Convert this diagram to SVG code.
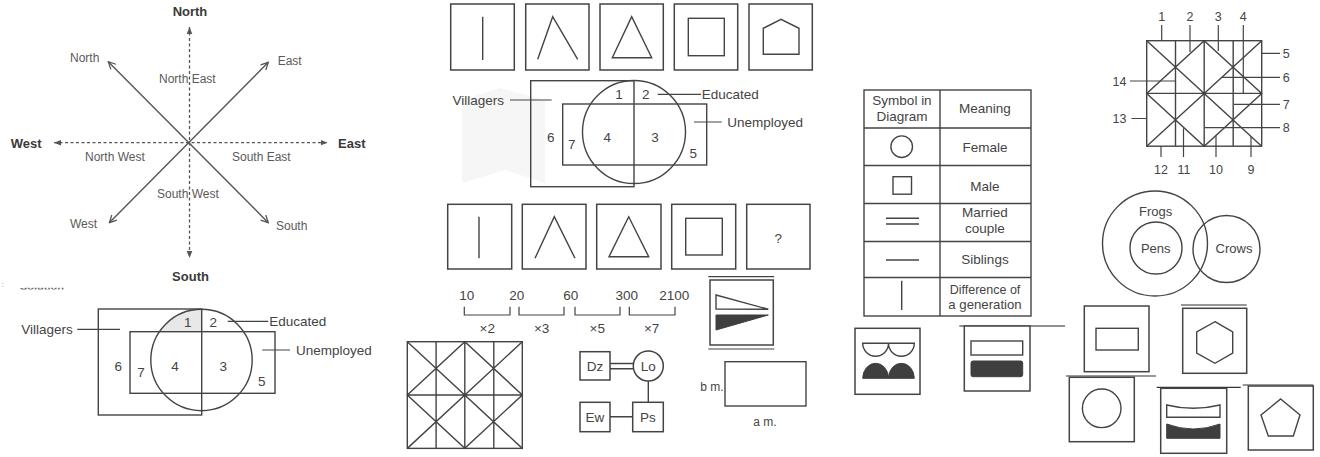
<svg xmlns="http://www.w3.org/2000/svg" width="1320" height="457" viewBox="0 0 1320 457">
<defs>
<style>
.t{font-family:"Liberation Sans",Arial,sans-serif;fill:#444}
.b{font-weight:bold;font-size:13px;fill:#3a3a3a}
.g{font-size:12px;fill:#5a5a5a}
.m{font-size:13.5px}
.s{font-size:12.5px}
.ln{fill:none;stroke:#444;stroke-width:1.4}
.thin{fill:none;stroke:#444;stroke-width:1.2}
.box{fill:#fff;stroke:#444;stroke-width:1.5}
.dk{fill:#3f3f3f;stroke:#3f3f3f;stroke-width:1}
.wh{fill:#fff;stroke:#444;stroke-width:1.4}
.dash{fill:none;stroke:#555;stroke-width:1.3;stroke-dasharray:3 2.5}
.arr{fill:none;stroke:#555;stroke-width:1.4}
.mid{text-anchor:middle}
.end{text-anchor:end}
</style>
<marker id="open" viewBox="0 0 10 10" refX="9" refY="5" markerWidth="9" markerHeight="9" markerUnits="userSpaceOnUse" orient="auto-start-reverse">
<path d="M1,1 L9,5 L1,9" fill="none" stroke="#555" stroke-width="1.4"/>
</marker>
<marker id="tri" viewBox="0 0 10 10" refX="10" refY="5" markerWidth="7" markerHeight="7" markerUnits="userSpaceOnUse" orient="auto-start-reverse">
<path d="M0,1 L10,5 L0,9 z" fill="#555"/>
</marker>
<g id="gridpat">
<rect x="0" y="0" width="115" height="105.5" class="ln"/>
<path class="ln" d="M28.8,0 V105.5 M57.5,0 V105.5 M86.5,0 V105.5 M0,52.7 H115 M0,0 L115,105.5 M0,105.5 L115,0 M0,52.7 L57.5,0 L115,52.7 L57.5,105.5 Z"/>
</g>
<clipPath id="solclip"><rect x="0" y="287.8" width="90" height="1.8"/></clipPath>
</defs>
<rect width="1320" height="457" fill="#fff"/>

<!-- faint watermark emblem -->
<g id="watermark">
<path d="M462,100 L500,88 L545,100 L545,183 L505,170 L462,183 Z" fill="#f6f6f6"/>
</g>

<!-- connectors -->
<g id="connectors">
<line class="dash" x1="189.5" y1="27" x2="189.5" y2="258" marker-start="url(#tri)" marker-end="url(#tri)"/>
<line class="dash" x1="54" y1="142.7" x2="327.5" y2="142.7" marker-start="url(#tri)" marker-end="url(#tri)"/>
<line class="arr" x1="108.3" y1="61.7" x2="268.3" y2="222.7" marker-start="url(#open)" marker-end="url(#open)"/>
<line class="arr" x1="109.3" y1="222.7" x2="268.3" y2="62.3" marker-start="url(#open)" marker-end="url(#open)"/>
<path class="thin" d="M510,100 H551.7 M657.7,94.3 H701 M694,122 H721.7"/>
<path class="thin" d="M77.3,329.3 H120 M227.7,321.3 H268.3 M262.3,350 H290"/>
<path class="ln" d="M610,363.5 H633.3 M610,368.8 H633.5 M648.3,381 V402.3 M610,416.7 H632.7"/>
<path class="thin" d="M1161.7,25 V40.7 M1190,25 V52 M1218.3,25 V51 M1243.3,25 V93.3 M1261.7,53.3 H1280 M1222,77.3 H1280 M1234,104.3 H1280 M1205,127.7 H1280 M1251,136.5 V157 M1216,135.5 V157 M1183.5,128.3 V157 M1161,146 V157 M1131.5,118.5 H1147 M1130,81 H1175.7"/>
</g>

<g id="compass">
<text class="t b mid" x="190" y="15.5">North</text>
<text class="t b mid" x="190.5" y="280.5">South</text>
<text class="t b" x="10.7" y="147.8">West</text>
<text class="t b" x="338" y="147.8">East</text>
<text class="t g" x="70" y="62">North</text>
<text class="t g" x="277.7" y="65.3">East</text>
<text class="t g" x="159" y="82.6">North East</text>
<text class="t g" x="85" y="161">North West</text>
<text class="t g" x="232" y="161">South East</text>
<text class="t g" x="157" y="198.3">South West</text>
<text class="t g" x="70" y="227.6">West</text>
<text class="t g" x="276" y="230.3">South</text>
</g>

<g id="solution-cut">
<text x="1.5" y="287" font-family="Liberation Sans,Arial,sans-serif" font-size="8" fill="#999">:</text>
<text x="20" y="289.5" clip-path="url(#solclip)" font-family="Liberation Sans,Arial,sans-serif" font-size="11" font-weight="bold" fill="#666">Solution</text>
</g>

<g id="venn-bottom">
<path d="M159.4,331.7 A50.7,50.7 0 0 1 201.5,309.3 L201.5,331.7 Z" fill="#e8e8e8"/>
<rect x="98.3" y="309" width="103.4" height="106" class="ln"/>
<rect x="130" y="331.7" width="145" height="61.6" class="ln"/>
<circle cx="201.5" cy="360" r="50.7" class="ln"/>
<text class="t m end" x="72.7" y="333.8">Villagers</text>
<text class="t m mid" x="187.7" y="326.5">1</text>
<text class="t m mid" x="213.3" y="326.5">2</text>
<text class="t m" x="269.3" y="326.3">Educated</text>
<text class="t m" x="296" y="354.8">Unemployed</text>
<text class="t m mid" x="118.3" y="370.5">6</text>
<text class="t m mid" x="141" y="376.5">7</text>
<text class="t m mid" x="175" y="370.5">4</text>
<text class="t m mid" x="223.3" y="370.5">3</text>
<text class="t m mid" x="261.7" y="385.8">5</text>
</g>

<g id="row1">
<rect x="450.7" y="4" width="63.6" height="66" class="box"/>
<rect x="525.7" y="4" width="63.3" height="66" class="box"/>
<rect x="600" y="4" width="63.3" height="66" class="box"/>
<rect x="674.3" y="4" width="63.4" height="66" class="box"/>
<rect x="749" y="4" width="63.3" height="66" class="box"/>
<path class="ln" d="M482.7,16.7 V60 M537.7,59.3 L552.7,16.7 L577.7,59.3 M612.3,57.7 L631.7,16.7 L651.7,57.7 Z"/>
<rect x="688.3" y="18.3" width="36" height="37.4" class="ln"/>
<path class="ln" d="M763.3,54.3 V28.3 L781,19.3 L799,28.3 V54.3 Z"/>
</g>

<g id="venn-top">
<rect x="530.7" y="80.7" width="103.3" height="106" class="ln"/>
<rect x="562.7" y="104" width="144" height="61" class="ln"/>
<circle cx="634" cy="132" r="51.5" class="ln"/>
<text class="t m end" x="504" y="104.6">Villagers</text>
<text class="t m mid" x="619" y="99">1</text>
<text class="t m mid" x="645.7" y="99">2</text>
<text class="t m" x="701.7" y="99">Educated</text>
<text class="t m" x="727.3" y="126.5">Unemployed</text>
<text class="t m mid" x="550.7" y="141.5">6</text>
<text class="t m mid" x="571.7" y="149">7</text>
<text class="t m mid" x="607.3" y="141.5">4</text>
<text class="t m mid" x="655" y="141.5">3</text>
<text class="t m mid" x="693.3" y="158">5</text>
</g>

<g id="row2">
<rect x="447.7" y="204.3" width="64" height="64.7" class="box"/>
<rect x="522.3" y="204.3" width="63.7" height="64.7" class="box"/>
<rect x="596.7" y="204.3" width="64.3" height="64.7" class="box"/>
<rect x="671.7" y="204.3" width="64" height="64.7" class="box"/>
<rect x="746.7" y="204.3" width="63.3" height="64.7" class="box"/>
<path class="ln" d="M479,216.7 V258.3 M535,258.3 L554.3,216.7 L575,258.3 M609,256.7 L628.7,216.7 L648.7,256.7 Z"/>
<rect x="685.7" y="218.3" width="36.6" height="36.7" class="ln"/>
<text class="t m mid" x="778.3" y="243">?</text>
</g>

<g id="sequence">
<path class="thin" d="M464.3,306.7 V315 H510 V306.7 M519,306.7 V315 H564 V306.7 M575,306.7 V315 H620 V306.7 M629.3,306.7 V315 H675 V306.7"/>
<text class="t m mid" x="466.7" y="300">10</text>
<text class="t m mid" x="516.7" y="300">20</text>
<text class="t m mid" x="570.7" y="300">60</text>
<text class="t m mid" x="626.7" y="300">300</text>
<text class="t m mid" x="674.3" y="300">2100</text>
<text class="t m mid" x="487.3" y="333">×2</text>
<text class="t m mid" x="541.7" y="333">×3</text>
<text class="t m mid" x="597.3" y="333">×5</text>
<text class="t m mid" x="651.7" y="333">×7</text>
</g>

<g id="grid-bottom"><use href="#gridpat" transform="translate(407.3,341.7) scale(1,1.011)"/></g>
<g id="grid-top"><use href="#gridpat" transform="translate(1146.7,40.7)"/></g>
<g id="grid-labels">
<text class="t s mid" x="1161.7" y="21.3">1</text>
<text class="t s mid" x="1190" y="21.3">2</text>
<text class="t s mid" x="1218.3" y="21.3">3</text>
<text class="t s mid" x="1243.3" y="21.3">4</text>
<text class="t s" x="1282.7" y="57.8">5</text>
<text class="t s" x="1282.7" y="82.3">6</text>
<text class="t s" x="1282.7" y="108.8">7</text>
<text class="t s" x="1282.7" y="132">8</text>
<text class="t s mid" x="1251" y="174">9</text>
<text class="t s mid" x="1216" y="174">10</text>
<text class="t s mid" x="1184" y="174">11</text>
<text class="t s mid" x="1161" y="174">12</text>
<text class="t s end" x="1126.5" y="123.3">13</text>
<text class="t s end" x="1126.5" y="85.5">14</text>
</g>

<g id="node-dz"><rect x="580" y="351.7" width="30" height="28.3" class="box"/><text class="t m mid" x="595" y="370.8">Dz</text></g>
<g id="node-lo"><circle cx="648.3" cy="366" r="15" class="box"/><text class="t m mid" x="648.3" y="370.8">Lo</text></g>
<g id="node-ew"><rect x="580" y="402.3" width="30" height="29.4" class="box"/><text class="t m mid" x="595" y="421.7">Ew</text></g>
<g id="node-ps"><rect x="632.7" y="402.3" width="30.6" height="29.4" class="box"/><text class="t m mid" x="648" y="421.7">Ps</text></g>

<g id="tri-box">
<path class="thin" d="M708.3,276.7 H774.3 M708.3,349 H774.3"/>
<rect x="710" y="280" width="63.3" height="65" class="box"/>
<path class="wh" d="M716,295 L716,309 L768.3,309.3 Z"/>
<path class="dk" d="M716,315 L768.3,315 L716,330 Z"/>
</g>

<g id="rect-ab">
<rect x="725" y="361.7" width="81" height="44.3" class="ln"/>
<text class="t end" font-size="12" x="723.5" y="391">b m.</text>
<text class="t mid" font-size="12" x="765" y="426">a m.</text>
</g>

<g id="legend-table">
<rect x="864" y="90" width="167" height="226" class="ln"/>
<path class="ln" d="M940,90 V316 M864,128 H1031 M864,165.5 H1031 M864,203.5 H1031 M864,241.5 H1031 M864,277.5 H1031"/>
<text class="t m mid" x="902" y="104.5">Symbol in</text>
<text class="t m mid" x="902" y="120.5">Diagram</text>
<text class="t m mid" x="985" y="113.3">Meaning</text>
<circle cx="901.7" cy="146.7" r="10.8" class="ln"/>
<text class="t m mid" x="985" y="151.5">Female</text>
<rect x="893" y="176.7" width="18.5" height="17.5" class="ln"/>
<text class="t m mid" x="985" y="190.5">Male</text>
<path class="ln" d="M886,218.3 H919 M886,224 H919"/>
<text class="t m mid" x="985" y="216.7">Married</text>
<text class="t m mid" x="985" y="232.7">couple</text>
<path class="ln" d="M886,260 H919"/>
<text class="t m mid" x="985" y="263.7">Siblings</text>
<path class="ln" d="M901.7,280.7 V310"/>
<text class="t mid" font-size="12.5" x="985" y="294.2">Difference of</text>
<text class="t mid" font-size="13.2" x="985" y="308.5">a generation</text>
</g>

<g id="box-semi">
<rect x="855" y="328.3" width="65" height="66" class="box"/>
<path class="wh" d="M862.7,343.3 A12.9,12.9 0 0 0 888.5,343.3 A12.9,12.9 0 0 0 914.3,343.3 Z"/>
<path class="dk" d="M862.7,378.3 A12.9,15 0 0 1 888.5,378.3 A12.9,15 0 0 1 914.3,378.3 Z"/>
</g>
<g id="box-bars">
<path d="M959.3,326 H1065" stroke="#222" stroke-width="1.2"/>
<rect x="964.3" y="326" width="65.7" height="65" class="box"/>
<rect x="971" y="341" width="51.7" height="14" class="wh"/>
<rect x="971" y="361" width="51.7" height="15.7" rx="2" class="dk"/>
</g>
<g id="box-rect">
<rect x="1084.3" y="306" width="64.7" height="65.7" class="box"/>
<rect x="1096" y="328.3" width="42.3" height="21.7" class="ln"/>
</g>
<g id="box-hex">
<path d="M1181,305 H1246.7" stroke="#333" stroke-width="1.2"/>
<rect x="1182.7" y="308.3" width="64" height="65" class="box"/>
<path class="ln" d="M1215,321.7 L1232.7,332 L1232.7,353 L1215,363.3 L1196.7,353 L1196.7,332 Z"/>
</g>
<g id="box-circle">
<path d="M1066,376 H1156" stroke="#333" stroke-width="1.2"/>
<rect x="1069.3" y="377.3" width="65" height="64.4" class="box"/>
<circle cx="1101.7" cy="408.3" r="19.3" class="ln"/>
</g>
<g id="box-curved">
<path d="M1156.7,387.3 H1240.7" stroke="#333" stroke-width="1.2"/>
<rect x="1160.7" y="388.3" width="66" height="65" class="box"/>
<path class="wh" d="M1166.7,405 Q1193.3,411.6 1220,405 L1220,417.3 L1166.7,417.3 Z"/>
<path class="dk" d="M1166.7,424 Q1193.3,434 1220,424 L1220,438.3 L1166.7,438.3 Z"/>
</g>
<g id="box-pent">
<path d="M1242.7,385 H1313.3" stroke="#333" stroke-width="1.2"/>
<rect x="1248.3" y="386" width="65" height="64" class="box"/>
<path class="ln" d="M1280.7,399 L1300,415 L1293.3,436 L1268.3,436 L1261,415 Z"/>
</g>

<g id="venn-frogs">
<circle cx="1155" cy="243.5" r="52.5" class="ln"/>
<circle cx="1156" cy="248" r="26" class="ln"/>
<circle cx="1226.5" cy="249" r="33.5" class="ln"/>
<text class="t mid" font-size="13" x="1155.7" y="215.5">Frogs</text>
<text class="t mid" font-size="13" x="1155.7" y="253">Pens</text>
<text class="t mid" font-size="13" x="1234" y="253">Crows</text>
</g>
</svg>
